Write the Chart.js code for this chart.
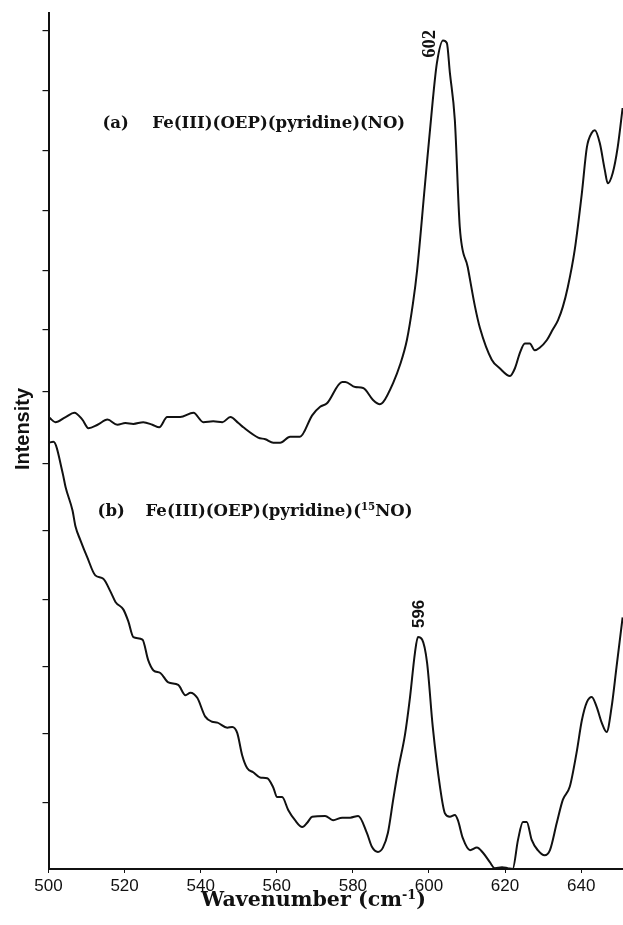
<!DOCTYPE html>
<html>
<head>
<meta charset="utf-8">
<script src="https://cdn.jsdelivr.net/npm/chart.js@4.4.1/dist/chart.umd.min.js"></script>
<style>
  html, body { margin: 0; padding: 0; background: #ffffff; }
  #wrap { width: 623px; height: 925px; }
  canvas { display: block; }
</style>
</head>
<body>
<div id="wrap"><canvas id="c" width="623" height="925"></canvas></div>
<script>
// ---------- DATA (wavenumber in cm-1, intensity in arbitrary units 0-100) ----------
const aWavenumber = [500.3,501.8,504.5,506.8,508.9,510.5,512.9,515.5,518.1,520.2,522.3,524.9,527.3,529.1,531.2,534.6,538.1,540.7,543.3,545.7,547.8,549.9,551.2,555.1,557.0,559.1,560.9,563.5,566.1,569.3,571.4,573.2,577.2,578.0,580.6,582.7,585.3,587.1,587.9,590.6,592.4,594.2,595.8,596.9,598.9,601.0,602.1,603.7,604.7,605.5,606.8,608.1,610.2,612.1,613.4,616.5,618.6,621.3,622.6,623.9,625.2,626.5,627.8,629.1,631.0,632.5,633.9,635.2,636.5,638.3,640.2,641.5,642.8,643.6,644.9,646.2,647.0,648.3,649.6,650.9];
const aIntensity  = [52.7,52.2,52.8,53.3,52.5,51.5,51.9,52.5,51.9,52.1,52.0,52.2,51.9,51.6,52.8,52.8,53.3,52.2,52.3,52.2,52.8,52.1,51.6,50.4,50.2,49.8,49.8,50.5,50.5,53.0,54.0,54.4,56.9,56.9,56.3,56.2,54.8,54.3,54.5,56.8,58.9,61.8,66.1,70.0,79.7,89.8,94.2,96.8,96.5,93.0,87.5,75.0,70.3,65.7,63.2,59.5,58.5,57.6,58.5,60.3,61.4,61.4,60.6,60.9,61.8,63.0,64.1,65.7,68.0,72.3,79.0,84.3,86.0,86.3,84.8,81.7,80.1,81.3,84.3,88.9];

const bWavenumber = [500.0,501.3,503.7,504.5,506.3,507.1,508.4,510.2,512.3,514.4,516.3,517.6,519.7,521.0,522.3,524.7,526.2,527.6,529.4,531.5,534.1,536.0,537.3,539.1,541.2,543.0,544.4,547.0,548.3,549.6,550.9,552.2,553.8,555.6,557.5,559.1,560.1,561.4,563.0,564.8,566.7,568.0,569.3,572.7,574.8,577.2,579.3,581.4,583.7,585.0,586.6,587.9,589.2,590.6,591.9,593.7,595.0,596.3,597.1,598.2,599.5,601.0,602.9,604.2,605.5,606.8,607.6,608.9,610.8,612.6,614.2,616.0,617.3,619.2,620.7,622.0,623.4,624.7,625.7,627.0,628.6,630.4,631.8,633.6,635.2,637.0,638.8,640.2,641.5,642.8,644.1,645.4,646.7,648.0,649.3,650.9];
const bIntensity  = [49.8,49.9,46.3,44.6,41.9,40.0,38.4,36.4,34.3,33.9,32.4,31.2,30.3,28.9,27.1,26.8,24.4,23.2,22.9,21.8,21.5,20.3,20.6,20.0,17.8,17.2,17.1,16.5,16.6,15.9,13.3,11.8,11.3,10.7,10.6,9.5,8.4,8.4,6.9,5.7,4.9,5.4,6.1,6.2,5.7,6.0,6.0,6.2,4.2,2.6,2.0,2.5,4.2,8.1,11.6,15.7,20.0,25.2,27.1,26.8,24.1,16.6,9.6,6.5,6.1,6.3,5.7,3.6,2.2,2.5,1.9,0.8,0.1,0.2,0.1,0.0,3.4,5.5,5.5,3.4,2.2,1.6,2.2,5.4,8.1,9.6,13.6,17.4,19.5,20.1,18.9,17.1,16.0,18.9,23.6,29.4];

const xTickValues = [500, 520, 540, 560, 580, 600, 620, 640];
const yTickValues = [7.8, 15.8, 23.6, 31.5, 39.5, 47.4, 55.8, 63.0, 69.9, 76.9, 83.9, 90.9, 97.9];

const peakLabels = [
  { text: '602', x: 600.3, y: 96.4, font: 'Liberation Serif', weight: 'bold', len: 28 },
  { text: '596', x: 597.4, y: 29.8, font: 'Liberation Sans', weight: 'bold', len: 28 }
];
const seriesLabels = [
  { tag: '(a)', tagX: 514.2, bodyX: 527.3, y: 86.6, parts: [['Fe(III)(OEP)(pyridine)(NO)', 0]], width: 253 },
  { tag: '(b)', tagX: 512.9, bodyX: 525.5, y: 41.2, parts: [['Fe(III)(OEP)(pyridine)(', 0], ['15', 1], ['NO)', 0]], width: 267 }
];
const xTitleParts = [['Wavenumber (cm', 0], ['-1', 1], [')', 0]];
const yTitle = 'Intensity';

// ---------- build ----------
const toPts = (xs, ys) => xs.map((x, i) => ({ x: x, y: ys[i] }));
const INK = '#111111';

function partsWidth(ctx, parts, family, weight, size) {
  let w = 0;
  for (const [t, sup] of parts) {
    ctx.font = weight + ' ' + (sup ? size * 0.62 : size) + 'px "' + family + '"';
    w += ctx.measureText(t).width;
  }
  return w;
}
function drawParts(ctx, parts, family, weight, x, y, targetW, baseSize) {
  const w0 = partsWidth(ctx, parts, family, weight, baseSize);
  const size = baseSize * targetW / w0;
  let cx = x;
  ctx.textBaseline = 'alphabetic';
  ctx.textAlign = 'left';
  for (const [t, sup] of parts) {
    const s = sup ? size * 0.62 : size;
    ctx.font = weight + ' ' + s + 'px "' + family + '"';
    ctx.fillText(t, cx, sup ? y - size * 0.36 : y);
    cx += ctx.measureText(t).width;
  }
  return size;
}

const annotate = {
  id: 'annotate',
  afterDraw(chart) {
    const ctx = chart.ctx;
    const xs = chart.scales.x, ys = chart.scales.y;
    ctx.save();
    ctx.fillStyle = INK;

    // series labels
    for (const L of seriesLabels) {
      const py = ys.getPixelForValue(L.y);
      const size = drawParts(ctx, L.parts, 'DejaVu Serif', 'bold', xs.getPixelForValue(L.bodyX), py, L.width, 16);
      ctx.font = 'bold ' + size + 'px "DejaVu Serif"';
      ctx.textAlign = 'left';
      ctx.fillText(L.tag, xs.getPixelForValue(L.tagX), py);
    }

    // peak labels (rotated)
    for (const P of peakLabels) {
      const px = xs.getPixelForValue(P.x), py = ys.getPixelForValue(P.y);
      ctx.save();
      ctx.translate(px, py);
      ctx.rotate(-Math.PI / 2);
      ctx.font = P.weight + ' 15px "' + P.font + '"';
      const s = 15 * P.len / ctx.measureText(P.text).width;
      ctx.font = P.weight + ' ' + s + 'px "' + P.font + '"';
      ctx.textAlign = 'center';
      ctx.textBaseline = 'middle';
      ctx.fillText(P.text, 0, 0);
      ctx.restore();
    }

    // y title
    ctx.save();
    ctx.translate(chart.chartArea.left - 25.5, ys.getPixelForValue(51.4));
    ctx.rotate(-Math.PI / 2);
    ctx.font = 'bold 20px "Liberation Sans"';
    const ys2 = 20 * 82 / ctx.measureText(yTitle).width;
    ctx.font = 'bold ' + ys2 + 'px "Liberation Sans"';
    ctx.textAlign = 'center';
    ctx.textBaseline = 'middle';
    ctx.fillText(yTitle, 0, 0);
    ctx.restore();

    // x title
    drawParts(ctx, xTitleParts, 'DejaVu Serif', 'bold', xs.getPixelForValue(540.1), chart.chartArea.bottom + 37, 225, 16);

    ctx.restore();
  }
};

new Chart(document.getElementById('c'), {
  type: 'line',
  data: {
    datasets: [
      { label: '(a) Fe(III)(OEP)(pyridine)(NO)', data: toPts(aWavenumber, aIntensity),
        borderColor: INK, borderWidth: 2, pointRadius: 0, fill: false, cubicInterpolationMode: 'monotone' },
      { label: '(b) Fe(III)(OEP)(pyridine)(15NO)', data: toPts(bWavenumber, bIntensity),
        borderColor: INK, borderWidth: 2, pointRadius: 0, fill: false, cubicInterpolationMode: 'monotone' }
    ]
  },
  options: {
    responsive: false,
    animation: false,
    devicePixelRatio: 1,
    layout: { padding: { top: 13, left: 42.5, right: 0, bottom: 26 } },
    plugins: { legend: { display: false }, tooltip: { enabled: false } },
    scales: {
      x: {
        type: 'linear', min: 500, max: 651,
        afterBuildTicks: (s) => { s.ticks = xTickValues.map(v => ({ value: v })); },
        afterFit: (s) => { s.height = 30; },
        ticks: { color: INK, font: { family: 'Liberation Sans', size: 17 }, padding: 3, maxRotation: 0 },
        grid: { drawOnChartArea: false, drawTicks: true, tickLength: 4, color: INK, lineWidth: 1 },
        border: { display: true, color: INK, width: 2 }
      },
      y: {
        type: 'linear', min: 0, max: 100,
        afterBuildTicks: (s) => { s.ticks = yTickValues.map(v => ({ value: v })); },
        afterFit: (s) => { s.width = 6; },
        ticks: { display: false },
        grid: { drawOnChartArea: false, drawTicks: true, tickLength: 6, color: INK, lineWidth: 1.2 },
        border: { display: true, color: INK, width: 2 }
      }
    }
  },
  plugins: [annotate]
});
</script>
</body>
</html>
